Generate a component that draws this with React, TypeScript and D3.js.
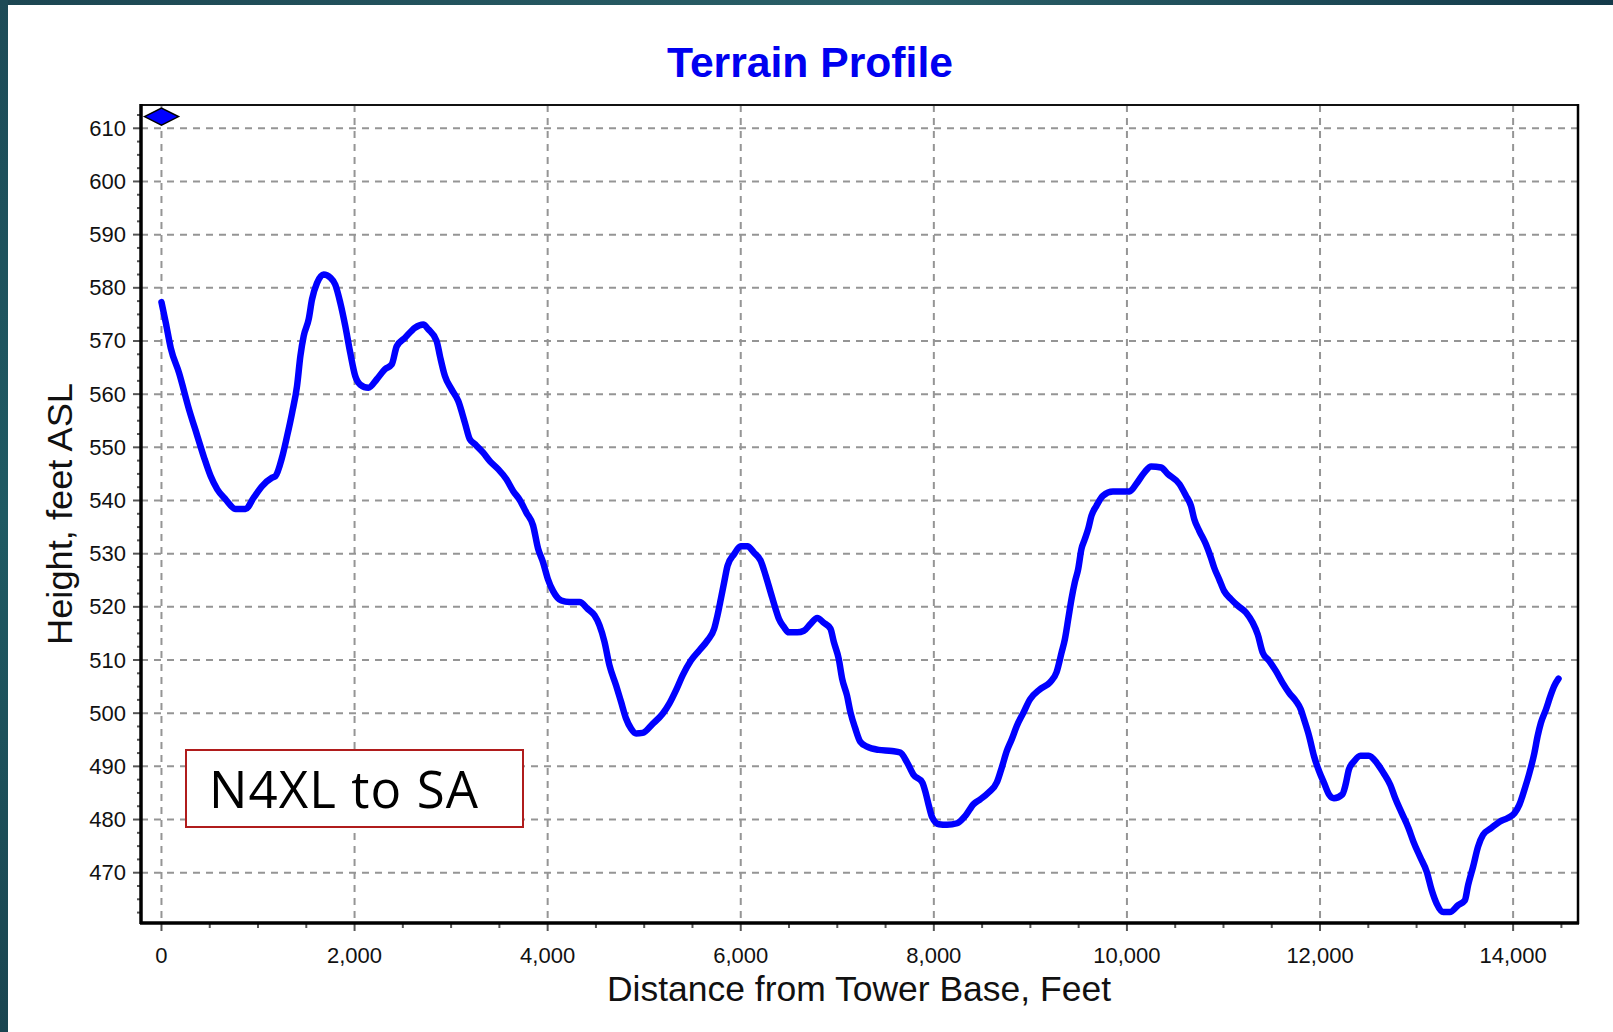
import React from "react";
import * as d3 from "d3";

const W = 1613;
const H = 1032;

const distanceFt = [
  0, 45, 96, 182, 286, 372, 441, 509, 578, 664, 768, 871, 957, 1043, 1146, 1181, 1249, 1301, 1353, 1404,
  1439, 1473, 1525, 1559, 1611, 1680, 1749, 1800, 1852, 1904, 1955, 2007, 2058, 2144, 2230, 2316, 2385,
  2437, 2523, 2626, 2712, 2764, 2850, 2884, 2936, 3005, 3074, 3143, 3194, 3246, 3332, 3401, 3487, 3573,
  3642, 3711, 3780, 3849, 3900, 3952, 4003, 4055, 4141, 4227, 4330, 4416, 4485, 4537, 4589, 4640, 4709,
  4761, 4812, 4864, 4916, 4984, 5088, 5191, 5260, 5329, 5398, 5484, 5570, 5656, 5725, 5759, 5794, 5828,
  5863, 5931, 6000, 6069, 6137, 6206, 6258, 6310, 6361, 6396, 6447, 6499, 6585, 6654, 6723, 6792, 6860,
  6929, 6964, 7015, 7050, 7101, 7136, 7187, 7239, 7308, 7428, 7566, 7652, 7721, 7790, 7880, 7914, 7948,
  7983, 8052, 8137, 8241, 8326, 8412, 8481, 8567, 8653, 8704, 8756, 8807, 8859, 8928, 8996, 9100, 9203,
  9271, 9323, 9357, 9392, 9426, 9460, 9495, 9529, 9563, 9598, 9632, 9684, 9752, 9855, 10027, 10096,
  10182, 10251, 10354, 10422, 10543, 10611, 10663, 10697, 10749, 10817, 10869, 10903, 10955, 11006,
  11075, 11149, 11235, 11303, 11355, 11406, 11475, 11544, 11612, 11681, 11750, 11801, 11835, 11887,
  11938, 11990, 12041, 12093, 12144, 12230, 12264, 12299, 12350, 12419, 12504, 12590, 12659, 12728,
  12779, 12847, 12916, 12968, 13036, 13105, 13157, 13208, 13277, 13345, 13431, 13500, 13534, 13585,
  13637, 13688, 13774, 13860, 13945, 14014, 14065, 14117, 14168, 14220, 14254, 14288, 14340, 14391,
  14425, 14470,
];

const heightFt = [
  577.3, 573.4, 568.7, 564.0, 557.1, 552.1, 548.1, 544.6, 542.1, 540.2, 538.4, 538.4, 540.6, 542.7, 544.3,
  544.6, 548.1, 552.1, 556.5, 561.5, 567.2, 570.9, 574.1, 577.8, 580.9, 582.5, 581.9, 580.6, 577.2,
  572.8, 567.8, 563.4, 561.8, 561.2, 562.8, 564.7, 565.6, 569.0, 570.6, 572.5, 573.1, 572.2, 570.0,
  567.2, 563.4, 560.9, 558.7, 554.6, 551.5, 550.6, 549.0, 547.4, 545.9, 544.0, 541.8, 540.1, 537.7,
  535.3, 531.0, 528.4, 525.2, 523.0, 521.2, 520.9, 520.9, 519.6, 518.4, 516.5, 513.4, 509.0, 505.2,
  502.1, 499.0, 497.1, 496.2, 496.3, 498.0, 499.9, 501.8, 504.3, 507.1, 509.9, 511.8, 513.7, 515.9,
  518.4, 521.5, 524.6, 527.7, 529.9, 531.4, 531.4, 530.2, 528.7, 525.9, 522.7, 519.6, 517.7, 516.2,
  515.2, 515.2, 515.5, 516.8, 517.9, 517.0, 515.9, 513.4, 510.2, 506.5, 503.3, 500.2, 497.1, 494.6,
  493.7, 493.1, 492.9, 492.6, 490.8, 488.4, 487.0, 485.1, 482.6, 480.4, 479.1, 479.0, 479.3, 480.7,
  482.9, 483.8, 485.1, 487.0, 489.8, 492.9, 495.1, 497.6, 500.1, 502.6, 504.5, 505.8, 507.7, 511.4,
  513.9, 517.7, 521.5, 524.6, 527.1, 530.9, 532.7, 534.6, 537.1, 539.0, 540.9, 541.7, 541.7, 543.1,
  545.3, 546.4, 546.2, 545.0, 543.1, 540.9, 539.0, 536.5, 534.3, 531.8, 529.3, 527.4, 525.2, 523.0,
  521.5, 520.2, 518.9, 517.0, 514.8, 511.4, 509.8, 507.9, 505.7, 503.8, 502.3, 500.7, 498.8, 495.7,
  491.9, 489.1, 486.9, 484.7, 484.0, 484.7, 486.5, 489.4, 490.9, 492.0, 492.0, 490.6, 488.7, 486.5,
  484.0, 481.2, 478.4, 475.8, 473.0, 470.2, 466.7, 464.2, 462.6, 462.6, 463.9, 464.8, 467.7, 471.1,
  474.9, 477.1, 478.4, 479.6, 480.3, 481.2, 482.8, 485.6, 488.7, 492.5, 495.7, 498.2, 500.7, 503.5,
  505.1, 506.5,
];

const xTickValues = [0, 2000, 4000, 6000, 8000, 10000, 12000, 14000];
const yTickValues = [470, 480, 490, 500, 510, 520, 530, 540, 550, 560, 570, 580, 590, 600, 610];
const towerMarker = { distance: 0, height: 612.2 };

const titleText = "Terrain Profile";
const xLabelText = "Distance from Tower Base, Feet";
const yLabelText = "Height, feet ASL";
const noteText = "N4XL to SA";

const PL = 141, PR = 1578, PT = 105, PB = 923;

export default function App() {
  const x = d3.scaleLinear().domain([-212, 14672]).range([PL, PR]);
  const y = d3.scaleLinear().domain([460.54, 614.38]).range([PB, PT]);

  const pts = distanceFt.map((d, i) => [d, heightFt[i]] as [number, number]);
  const line = d3
    .line<[number, number]>()
    .x((d) => x(d[0]))
    .y((d) => y(d[1]))
    .curve(d3.curveMonotoneX);

  const xMinor = d3.range(0, 14501, 500).filter((v) => v % 2000 !== 0);
  const yMinor = d3.range(462.5, 614, 2.5).filter((v) => Math.abs(v % 10) > 0.01);

  const font = "'Liberation Sans', Arial, sans-serif";
  const grid = "#959595";

  const mx = x(towerMarker.distance);
  const my = y(towerMarker.height);

  return (
    <svg
      width={W}
      height={H}
      style={{ position: "absolute", left: 0, top: 0, display: "block" }}
      xmlns="http://www.w3.org/2000/svg"
    >
      <defs>
        <linearGradient id="topStrip" x1="0" x2="1" y1="0" y2="0">
          <stop offset="0" stopColor="#1c4652" />
          <stop offset="0.55" stopColor="#2a6068" />
          <stop offset="1" stopColor="#143a4a" />
        </linearGradient>
        <linearGradient id="leftStrip" x1="0" x2="0" y1="0" y2="1">
          <stop offset="0" stopColor="#1d4b57" />
          <stop offset="0.5" stopColor="#1f5a63" />
          <stop offset="1" stopColor="#1a4550" />
        </linearGradient>
      </defs>
      <rect x={0} y={0} width={W} height={H} fill="#ffffff" />
      <rect x={0} y={0} width={W} height={5} fill="url(#topStrip)" />
      <rect x={0} y={0} width={8} height={H} fill="url(#leftStrip)" />

      {/* grid */}
      <g stroke={grid} strokeWidth={2} strokeDasharray="7,6">
        {yTickValues.map((v) => (
          <line key={"gy" + v} x1={PL} x2={PR} y1={y(v)} y2={y(v)} />
        ))}
        {xTickValues.map((v) => (
          <line key={"gx" + v} x1={x(v)} x2={x(v)} y1={PT} y2={PB} />
        ))}
      </g>

      {/* ticks */}
      <g stroke="#555" strokeWidth={2}>
        {yTickValues.map((v) => (
          <line key={"ty" + v} x1={PL - 8} x2={PL} y1={y(v)} y2={y(v)} />
        ))}
        {yMinor.map((v) => (
          <line key={"tym" + v} x1={PL - 4} x2={PL} y1={y(v)} y2={y(v)} />
        ))}
        {xTickValues.map((v) => (
          <line key={"tx" + v} x1={x(v)} x2={x(v)} y1={PB} y2={PB + 8} />
        ))}
        {xMinor.map((v) => (
          <line key={"txm" + v} x1={x(v)} x2={x(v)} y1={PB} y2={PB + 5} />
        ))}
      </g>

      {/* frame */}
      <rect x={PL} y={PT} width={PR - PL} height={PB - PT} fill="none" stroke="#111" strokeWidth={2} />
      <line x1={PL} x2={PL} y1={PT - 1} y2={PB + 1} stroke="#000" strokeWidth={3.5} />
      <line x1={PL - 1} x2={PR + 1} y1={PB} y2={PB} stroke="#000" strokeWidth={3.5} />
      <line x1={PR} x2={PR} y1={PT - 1} y2={PB + 1} stroke="#000" strokeWidth={2.5} />

      {/* tick labels */}
      <g fontFamily={font} fontSize={22} fill="#111">
        {yTickValues.map((v) => (
          <text key={"ly" + v} x={126} y={y(v)} textAnchor="end" dominantBaseline="central">
            {v}
          </text>
        ))}
        {xTickValues.map((v) => (
          <text key={"lx" + v} x={x(v)} y={963} textAnchor="middle">
            {d3.format(",")(v)}
          </text>
        ))}
      </g>

      {/* annotation box */}
      <rect x={186} y={750} width={337} height={77} fill="#fff" stroke="#b01c1c" strokeWidth={2} />
      <text
        x={209}
        y={808}
        fontFamily="'Open Sans', 'Noto Sans', sans-serif"
        fontSize={51}
        fill="#000"
        textLength={269}
        lengthAdjust="spacing"
      >
        {noteText}
      </text>

      {/* terrain line */}
      <path
        d={line(pts) || ""}
        fill="none"
        stroke="#0000ff"
        strokeWidth={6.5}
        strokeLinejoin="round"
        strokeLinecap="round"
      />

      {/* tower marker */}
      <path
        d={`M${mx - 17},${my} L${mx},${my - 8.5} L${mx + 17},${my} L${mx},${my + 8.5} Z`}
        fill="#0000ff"
        stroke="#000"
        strokeWidth={1.5}
      />

      {/* title & labels */}
      <text
        x={810}
        y={77}
        textAnchor="middle"
        fontFamily={font}
        fontWeight="bold"
        fontSize={42}
        fill="#0000f0"
        textLength={286}
        lengthAdjust="spacingAndGlyphs"
      >
        {titleText}
      </text>
      <text
        x={859}
        y={1001}
        textAnchor="middle"
        fontFamily={font}
        fontSize={35}
        fill="#111"
        textLength={504}
        lengthAdjust="spacingAndGlyphs"
      >
        {xLabelText}
      </text>
      <text
        transform={`translate(72, ${(PT + PB) / 2}) rotate(-90)`}
        textAnchor="middle"
        fontFamily={font}
        fontSize={35}
        fill="#111"
        textLength={262}
        lengthAdjust="spacingAndGlyphs"
      >
        {yLabelText}
      </text>
    </svg>
  );
}
